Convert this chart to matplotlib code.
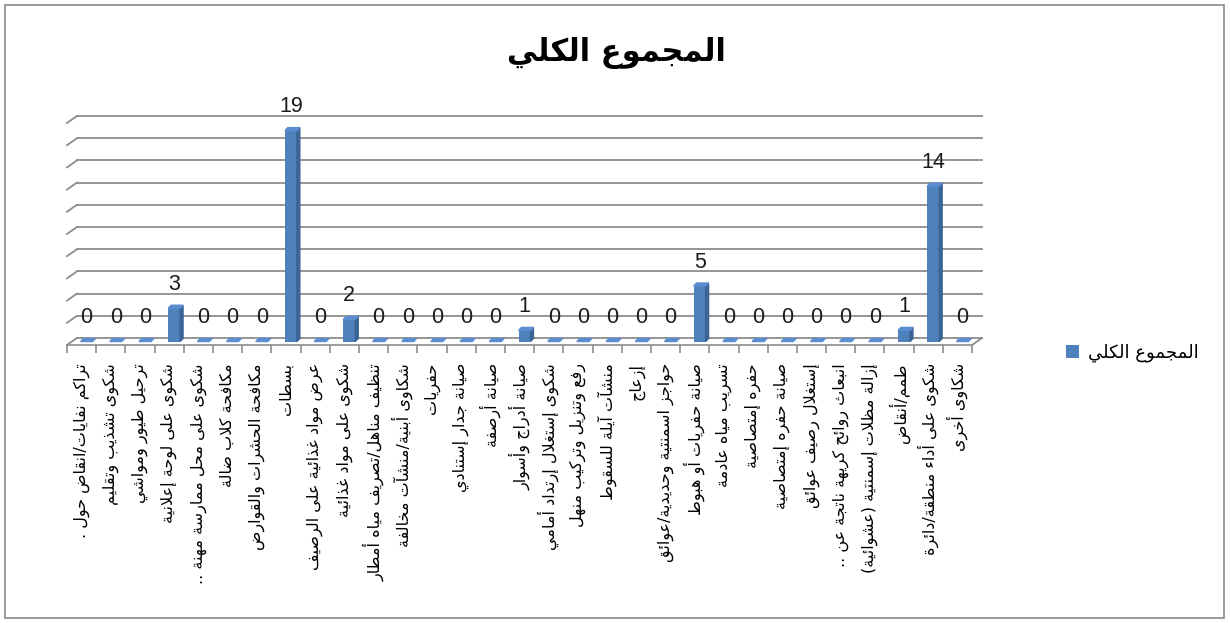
import numpy as np
import matplotlib
matplotlib.use('Agg')
import matplotlib.pyplot as plt
from matplotlib.patches import Polygon, Rectangle, Patch

# ---------------- data ----------------
categories = [
    'تراكم نفايات/انقاض حول .',
    'شكوى تشذيب وتقليم',
    'ترحيل طيور ومواشي',
    'شكوى على لوحة إعلانية',
    'شكوى على محل ممارسة مهنة ..',
    'مكافحة كلاب ضالة',
    'مكافحة الحشرات والقوارض',
    'بسطات',
    'عرض مواد غذائية على الرصيف',
    'شكوى على مواد غذائية',
    'تنظيف مناهل/تصريف مياه أمطار',
    'شكاوى أبنية/منشآت مخالفة',
    'حفريات',
    'صيانة جدار إستنادي',
    'صيانة أرصفة',
    'صيانة أدراج وأسوار',
    'شكوى إستغلال إرتداد أمامي',
    'رفع وتنزيل وتركيب منهل',
    'منشآت آيلة للسقوط',
    'إزعاج',
    'حواجز اسمنتية وحديدية/عوائق',
    'صيانة حفريات أو هبوط',
    'تسريب مياه عادمة',
    'حفره إمتصاصية',
    'صيانة حفره إمتصاصية',
    'إستغلال رصيف عوائق',
    'انبعاث روائح كريهة ناتجة عن ..',
    'إزالة مظلات إسمنتية (عشوائية)',
    'طمم/أنقاض',
    'شكوى على أداء منطقة/دائرة',
    'شكاوى أخرى',
]
values = [0, 0, 0, 3, 0, 0, 0, 19, 0, 2, 0, 0, 0, 0, 0, 1,
          0, 0, 0, 0, 0, 5, 0, 0, 0, 0, 0, 0, 1, 14, 0]
series_name = 'المجموع الكلي'
title_text = 'المجموع الكلي'
y_max = 20
y_step = 2

# ---------------- minimal Arabic shaping ----------------
D_BASE = {'ئ': 0xFE89, 'ب': 0xFE8F, 'ت': 0xFE95, 'ث': 0xFE99, 'ج': 0xFE9D,
          'ح': 0xFEA1, 'خ': 0xFEA5, 'س': 0xFEB1, 'ش': 0xFEB5, 'ص': 0xFEB9,
          'ض': 0xFEBD, 'ط': 0xFEC1, 'ظ': 0xFEC5, 'ع': 0xFEC9, 'غ': 0xFECD,
          'ف': 0xFED1, 'ق': 0xFED5, 'ك': 0xFED9, 'ل': 0xFEDD, 'م': 0xFEE1,
          'ن': 0xFEE5, 'ه': 0xFEE9, 'ي': 0xFEF1}
R_BASE = {'آ': 0xFE81, 'أ': 0xFE83, 'ؤ': 0xFE85, 'إ': 0xFE87, 'ا': 0xFE8D,
          'ة': 0xFE93, 'د': 0xFEA9, 'ذ': 0xFEAB, 'ر': 0xFEAD, 'ز': 0xFEAF,
          'و': 0xFEED, 'ى': 0xFEEF}
LAMALEF = {'آ': 0xFEF5, 'أ': 0xFEF7, 'إ': 0xFEF9, 'ا': 0xFEFB}
MIRROR = {'(': ')', ')': '('}


def shape(s):
    toks = []
    i = 0
    while i < len(s):
        c = s[i]
        if c == 'ل' and i + 1 < len(s) and s[i + 1] in LAMALEF:
            toks.append(('LA', LAMALEF[s[i + 1]]))
            i += 2
        else:
            toks.append(c)
            i += 1

    def jt(t):
        if isinstance(t, tuple):
            return 'R'
        if t in D_BASE:
            return 'D'
        if t in R_BASE:
            return 'R'
        return 'U'

    types = [jt(t) for t in toks]
    out = []
    for k, t in enumerate(toks):
        ty = types[k]
        prev = k > 0 and types[k - 1] == 'D' and ty in 'DR'
        nxt = ty == 'D' and k + 1 < len(toks) and types[k + 1] in 'DR'
        if isinstance(t, tuple):
            out.append(chr(t[1] + (1 if prev else 0)))
        elif ty == 'D':
            off = 3 if (prev and nxt) else 1 if prev else 2 if nxt else 0
            out.append(chr(D_BASE[t] + off))
        elif ty == 'R':
            out.append(chr(R_BASE[t] + (1 if prev else 0)))
        else:
            out.append(MIRROR.get(t, t))
    return ''.join(reversed(out))


plt.rcParams['font.family'] = ['DejaVu Sans']

# ---------------- figure ----------------
W, H = 1230, 623
fig = plt.figure(figsize=(W / 100, H / 100), dpi=100)
fig.patches.append(Rectangle((5 / W, 5 / H), 1219 / W, 613 / H,
                             transform=fig.transFigure, fill=False,
                             edgecolor='#8a8a8a', lw=1.2))

n = len(categories)
DX, DY = 0.34, 0.63      # depth of the 3-D floor / wall
BW = 0.41                # bar width
SX, SY = 0.10, 0.27      # bar depth
grid_c = '#8c8c8c'

ax = fig.add_axes([67 / W, 1 - 345 / H, (982 - 67) / W, (345 - 116) / H])
ax.set_xlim(-0.5, n - 0.5 + DX)
ax.set_ylim(0, y_max + DY)
for sp in ['top', 'right', 'left']:
    ax.spines[sp].set_visible(False)
ax.spines['bottom'].set_bounds(-0.5, n - 0.5)
ax.spines['bottom'].set_color(grid_c)
ax.spines['bottom'].set_linewidth(1.2)
ax.set_yticks([])

# back wall gridlines and side wall diagonals
for v in range(0, y_max + 1, y_step):
    ax.plot([-0.5 + DX, n - 0.5 + DX], [v + DY, v + DY], color=grid_c,
            lw=1.3, clip_on=False, zorder=1)
    ax.plot([-0.5, -0.5 + DX], [v, v + DY], color=grid_c, lw=1.3,
            clip_on=False, zorder=1)
ax.plot([n - 0.5, n - 0.5 + DX], [0, DY], color=grid_c, lw=1.3,
        clip_on=False, zorder=1)

# bars with 3-D faces
base = DY / 2
for i, v in enumerate(values):
    bx = i + DX / 2
    if v > 0:
        ax.bar(bx, v, width=BW, bottom=base, color='#4F81BD', zorder=3)
        ax.add_patch(Polygon([(bx + BW / 2, base), (bx + BW / 2 + SX, base + SY),
                              (bx + BW / 2 + SX, base + v + SY), (bx + BW / 2, base + v)],
                             closed=True, color='#3A6496', zorder=3))
    ax.add_patch(Polygon([(bx - BW / 2, base + v), (bx + BW / 2, base + v),
                          (bx + BW / 2 + SX, base + v + SY), (bx - BW / 2 + SX, base + v + SY)],
                         closed=True, color='#5B8ED0', zorder=4))
    ax.annotate(str(v), (bx, base + v + SY), xytext=(0, 15),
                textcoords='offset points', ha='center', va='center',
                fontsize=15.5, color='#1a1a1a', zorder=5,
                family=['Liberation Sans', 'DejaVu Sans'])

# category axis
ax.set_xticks(range(n))
ax.set_xticklabels([shape(c) for c in categories], rotation=90,
                   va='top', ha='center', fontsize=11.5)
ax.tick_params(axis='x', which='major', length=0, pad=13)
ax.set_xticks(np.arange(-0.5, n, 1), minor=True)
ax.tick_params(axis='x', which='minor', length=6, color=grid_c, width=1.2)

# title
fig.text(616 / W, 1 - 53 / H, shape(title_text), ha='center', va='center',
         fontsize=22, fontweight='bold')

# legend
fig.legend(handles=[Patch(facecolor='#4F81BD')], labels=[shape(series_name)],
           loc='center left', bbox_to_anchor=(1050 / W, 1 - 353 / H),
           frameon=False, handlelength=0.7, handleheight=0.7,
           handletextpad=0.5, fontsize=13)

fig.savefig('out.png', dpi=100)
